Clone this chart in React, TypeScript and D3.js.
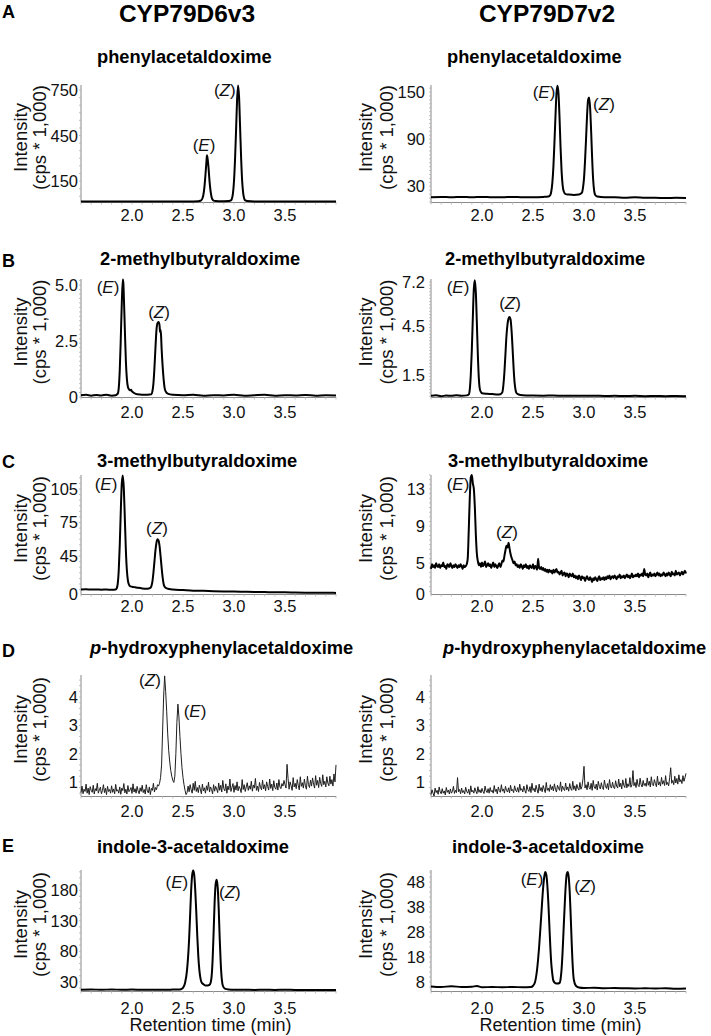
import React from "react";
import * as d3 from "d3";

const W = 711;
const H = 1036;
const FONT = "'Liberation Sans', Arial, Helvetica, sans-serif";

// ---------- x axis ----------
const xDomain: [number, number] = [1.5, 4.0];
const xTickLabels = ["2.0", "2.5", "3.0", "3.5"];

// ---------- data (retention time [min], intensity [cps*1000]) ----------
const aLeft: [number, number][] = [
  [1.5, 16], [1.6, 15], [1.7, 16], [1.8, 15], [1.9, 16], [2.0, 15], [2.1, 16], [2.2, 15], [2.3, 16], [2.4, 15],
  [2.5, 16], [2.6, 16], [2.65, 17], [2.67, 20], [2.68, 24], [2.69, 35], [2.7, 60], [2.71, 110], [2.72, 190],
  [2.73, 280], [2.735, 320], [2.74, 305], [2.75, 240], [2.76, 150], [2.77, 85], [2.78, 45], [2.79, 28], [2.8, 21],
  [2.82, 18], [2.85, 17], [2.9, 17], [2.95, 18], [2.97, 22], [2.98, 35], [2.99, 70], [3.0, 150], [3.01, 290],
  [3.02, 480], [3.03, 680], [3.04, 780], [3.05, 700], [3.06, 500], [3.07, 300], [3.08, 150], [3.09, 70], [3.1, 35],
  [3.11, 22], [3.13, 18], [3.2, 16], [3.3, 16], [3.4, 15], [3.5, 16], [3.6, 15], [3.7, 16], [3.8, 15], [3.9, 15], [4.0, 15],
];
const aRight: [number, number][] = [
  [1.5, 16], [1.6, 16.5], [1.7, 16], [1.8, 16.5], [1.9, 16], [2.0, 16.5], [2.1, 16], [2.2, 16], [2.3, 16.5], [2.4, 16],
  [2.5, 16], [2.6, 16.5], [2.65, 17], [2.67, 19], [2.68, 24], [2.69, 35], [2.7, 55], [2.71, 85], [2.72, 118],
  [2.73, 148], [2.74, 158], [2.75, 148], [2.76, 118], [2.77, 80], [2.78, 50], [2.79, 32], [2.8, 24], [2.82, 20],
  [2.85, 19.5], [2.9, 19], [2.95, 19.5], [2.98, 22], [2.99, 28], [3.0, 40], [3.01, 62], [3.02, 90], [3.03, 120],
  [3.04, 140], [3.05, 143], [3.06, 130], [3.07, 100], [3.08, 65], [3.09, 38], [3.1, 24], [3.11, 19], [3.13, 17],
  [3.2, 16], [3.3, 16], [3.4, 15.5], [3.5, 16], [3.6, 15.5], [3.7, 15.5], [3.8, 15], [3.9, 15.5], [4.0, 15],
];
const bLeft: [number, number][] = [
  [1.5, 0.08], [1.55, 0.1], [1.6, 0.06], [1.65, 0.09], [1.7, 0.07], [1.75, 0.1], [1.8, 0.06], [1.84, 0.08], [1.86, 0.15],
  [1.87, 0.4], [1.88, 1.2], [1.89, 2.6], [1.9, 4.2], [1.91, 5.25], [1.915, 5.1], [1.92, 4.5], [1.93, 3.0], [1.94, 1.6],
  [1.95, 0.8], [1.96, 0.45], [1.97, 0.35], [1.98, 0.3], [1.99, 0.32], [2.0, 0.25], [2.02, 0.18], [2.05, 0.12], [2.1, 0.1],
  [2.15, 0.1], [2.19, 0.12], [2.2, 0.25], [2.21, 0.6], [2.22, 1.3], [2.23, 2.2], [2.24, 3.0], [2.25, 3.3], [2.26, 3.35],
  [2.27, 3.2], [2.275, 2.9], [2.28, 3.0], [2.285, 2.75], [2.29, 2.2], [2.3, 1.4], [2.31, 0.8], [2.32, 0.4], [2.33, 0.25],
  [2.35, 0.15], [2.4, 0.1], [2.5, 0.08], [2.6, 0.1], [2.7, 0.06], [2.8, 0.08], [2.9, 0.07], [3.0, 0.1], [3.1, 0.06],
  [3.2, 0.08], [3.3, 0.1], [3.4, 0.06], [3.5, 0.08], [3.6, 0.07], [3.7, 0.09], [3.8, 0.06], [3.9, 0.08], [4.0, 0.07],
];
const bRight: [number, number][] = [
  [1.5, 0.22], [1.55, 0.25], [1.6, 0.2], [1.65, 0.24], [1.7, 0.22], [1.75, 0.25], [1.8, 0.23], [1.85, 0.25], [1.87, 0.3],
  [1.88, 0.6], [1.89, 1.5], [1.9, 3.0], [1.91, 5.0], [1.92, 6.8], [1.93, 7.3], [1.94, 6.5], [1.95, 4.6], [1.96, 2.6],
  [1.97, 1.2], [1.98, 0.6], [1.99, 0.45], [2.0, 0.38], [2.05, 0.35], [2.1, 0.33], [2.15, 0.3], [2.18, 0.32], [2.2, 0.45],
  [2.21, 0.9], [2.22, 1.7], [2.23, 2.8], [2.24, 3.9], [2.25, 4.6], [2.26, 4.95], [2.27, 5.05], [2.28, 4.9], [2.29, 4.2],
  [2.3, 3.1], [2.31, 1.9], [2.32, 1.0], [2.33, 0.55], [2.34, 0.38], [2.36, 0.3], [2.4, 0.26], [2.5, 0.24], [2.6, 0.23],
  [2.7, 0.24], [2.8, 0.22], [2.9, 0.23], [3.0, 0.22], [3.1, 0.23], [3.2, 0.21], [3.3, 0.22], [3.4, 0.21], [3.5, 0.22],
  [3.6, 0.2], [3.7, 0.21], [3.8, 0.2], [3.9, 0.21], [4.0, 0.2],
];
const cLeft: [number, number][] = [
  [1.5, 15], [1.55, 15.2], [1.6, 15], [1.65, 15.1], [1.7, 14.9], [1.75, 15], [1.8, 14.8], [1.84, 15], [1.85, 16],
  [1.86, 20], [1.87, 32], [1.88, 55], [1.89, 85], [1.9, 110], [1.91, 117], [1.92, 105], [1.93, 78], [1.94, 50],
  [1.95, 32], [1.96, 23], [1.97, 19.5], [1.98, 18], [2.0, 17.5], [2.03, 17], [2.06, 16.5], [2.1, 16], [2.15, 15.8],
  [2.18, 16.5], [2.19, 18], [2.2, 22], [2.21, 30], [2.22, 40], [2.23, 50], [2.24, 57], [2.25, 60], [2.26, 59],
  [2.27, 54], [2.28, 45], [2.29, 35], [2.3, 26], [2.31, 20], [2.32, 17.5], [2.34, 16], [2.4, 15], [2.5, 14.5],
  [2.6, 14], [2.7, 13.8], [2.8, 13.5], [2.9, 13.3], [3.0, 13.2], [3.1, 13], [3.2, 12.8], [3.3, 12.7], [3.4, 12.5],
  [3.5, 12.5], [3.6, 12.3], [3.7, 12.2], [3.8, 12.2], [3.9, 12.1], [4.0, 12],
];
// noisy traces: one value every 0.01 min starting at 1.50 min
const noisyStart = 1.5;
const noisyStep = 0.01;
const cRightValues = [
  4.4, 4.9, 4.6, 4.8, 4.5, 5.0, 4.7, 4.6, 4.9, 4.5, 4.8, 4.7, 5.1, 4.6, 4.7, 4.4, 4.9, 4.8, 4.6, 5.0, 4.7, 4.5, 4.8, 4.6,
  4.9, 4.7, 4.5, 4.8, 4.6, 4.9, 4.7, 4.4, 4.8, 4.6, 4.7, 4.9,
  5.5, 8.5, 12.0, 14.2, 14.6, 13.6, 13.0, 11.0, 8.0, 6.0, 5.2, 4.8,
  5.0, 4.6, 5.1, 4.7, 4.9, 5.2, 4.6, 4.8, 5.0, 4.7, 4.9, 4.5, 4.8, 5.1, 4.6, 4.9, 4.7, 4.5, 4.8, 5.0, 4.6, 4.9, 5.3,
  5.2, 5.8, 6.4, 6.9, 6.7, 7.2, 6.6, 6.0, 5.6, 5.3, 5.0, 5.2, 4.8,
  4.9, 4.6, 4.8, 4.5, 4.9, 4.7, 4.4, 4.8, 4.6, 4.9, 4.5, 4.7, 4.4, 4.8, 4.6, 4.5, 4.9, 4.4, 4.7, 4.6, 4.3, 5.5, 4.5,
  4.4, 4.6, 4.3, 4.5,
  4.2, 4.4, 4.1, 4.3, 4.0, 4.3, 4.1, 4.2, 3.9, 4.3, 4.0, 4.2, 4.4, 4.0, 4.1, 3.8, 4.0, 4.2, 3.7, 3.9, 4.0, 3.6, 3.9,
  3.8, 3.5, 3.9, 3.7, 3.6, 3.9, 3.5,
  3.7, 3.4, 3.6, 3.3, 3.7, 3.5, 3.2, 3.6, 3.4, 3.5, 3.1, 3.4, 3.6, 3.3, 3.2, 3.5, 3.3, 3.0, 3.4, 3.2, 3.5, 3.3, 3.1,
  3.4, 3.6, 3.2, 3.4, 3.3, 3.5, 3.2,
  3.5, 3.3, 3.6, 3.4, 3.7, 3.3, 3.5, 3.6, 3.4, 3.7, 3.5, 3.3, 3.6, 3.5, 3.8, 3.4, 3.6, 3.5, 3.7, 3.4, 3.6, 3.8, 3.5,
  3.7, 3.4, 3.6, 3.9, 3.5, 3.7, 3.6,
  3.8, 3.6, 3.9, 3.5, 3.8, 3.7, 3.9, 3.6, 4.4, 3.8, 3.7, 3.9, 3.5, 3.8, 4.0, 3.6, 3.8, 3.7, 3.9, 3.6, 3.8, 4.0, 3.7,
  3.9, 3.6, 3.8, 3.7, 4.0, 3.8, 3.6,
  3.9, 3.7, 4.0, 3.8, 3.6, 4.1, 3.8, 3.9, 3.7, 4.2, 3.8, 3.9, 4.0, 3.7, 3.9, 4.1, 3.8, 4.0, 4.2, 3.9,
];
const dLeftValues = [
  0.62, 0.85, 0.58, 0.74, 0.66, 0.92, 0.6, 0.78, 0.55, 0.83, 0.7, 0.63, 0.88, 0.57, 0.76, 0.68, 0.95, 0.6, 0.72, 0.81,
  0.58, 0.69, 0.9, 0.62, 0.77, 0.55, 0.84, 0.66, 0.73, 0.6,
  0.86, 0.63, 0.75, 0.58, 0.91, 0.67, 0.72, 0.6, 0.82, 0.56, 0.78, 0.69, 0.94, 0.61, 0.74, 0.57, 0.87, 0.65, 0.71, 0.8,
  0.59, 0.93, 0.64, 0.76, 0.6, 0.84, 0.68, 0.58, 0.79, 0.66,
  0.88, 0.62, 0.73, 0.57, 0.9, 0.68, 0.61, 0.82, 0.55, 0.77, 0.7, 0.95, 0.64, 0.8, 0.72, 0.9, 0.85, 0.95, 1.15,
  1.6, 2.8, 4.0, 4.75, 4.2, 3.5, 2.7, 2.1, 1.7, 1.4, 1.2, 1.05, 0.98, 1.2, 2.0, 3.1, 3.75, 3.3, 2.6, 2.0, 1.5, 1.15,
  0.9, 0.7, 0.55, 0.62, 0.85,
  0.65, 0.9, 0.72, 0.6, 0.95, 0.7, 1.02, 0.66, 0.8, 0.62, 0.88, 0.74, 0.58, 0.92, 0.68, 0.79, 0.6, 0.86, 0.7, 0.99,
  0.64, 0.82, 0.73, 0.58, 0.9, 0.67, 0.84, 0.75, 0.62, 0.96,
  0.7, 0.88, 0.64, 1.05, 0.76, 0.68, 0.93, 0.6, 0.85, 0.72, 1.1, 0.66, 0.8, 0.94, 0.63, 0.87, 0.71, 1.0, 0.68, 0.84,
  0.76, 0.62, 1.08, 0.73, 0.9, 0.66, 0.82, 0.97, 0.7, 0.86,
  0.74, 1.02, 0.67, 0.89, 0.78, 1.12, 0.7, 0.85, 0.66, 0.98, 0.8, 0.72, 1.06, 0.75, 0.9, 0.68, 1.0, 0.83, 0.71, 1.1,
  0.77, 0.92, 0.69, 1.04, 0.8, 0.74, 0.96, 0.71, 1.08, 0.82,
  0.76, 0.94, 0.85, 1.05, 0.9, 0.78, 1.62, 1.12, 0.74, 1.0, 0.86, 0.7, 1.15, 0.82, 0.95, 0.76, 1.08, 0.88, 0.72, 1.18,
  0.84, 0.97, 0.78, 1.1, 0.86, 0.74, 1.2, 0.9, 0.8, 1.06,
  0.85, 1.14, 0.92, 0.78, 1.22, 0.88, 1.05, 0.8, 1.16, 0.94, 0.84, 1.25, 0.9, 1.02, 0.82, 1.18, 0.96, 0.86, 1.2, 0.92,
  1.08, 0.85, 1.28, 1.0, 1.6,
];
const dRightValues = [
  0.55, 0.72, 0.6, 0.5, 0.78, 0.62, 0.7, 0.56, 0.82, 0.64, 0.58, 0.76, 0.6, 0.68, 0.54, 0.8, 0.63, 0.71, 0.57, 0.75,
  0.6, 0.66, 0.84, 0.59, 0.7, 0.62, 1.15, 0.65, 0.73, 0.58,
  0.78, 0.62, 0.69, 0.57, 0.81, 0.66, 0.6, 0.74, 0.55, 0.86, 0.64, 0.7, 0.6, 0.79, 0.67, 0.58, 0.83, 0.63, 0.72, 0.61,
  0.77, 0.66, 0.59, 0.85, 0.68, 0.62, 0.76, 0.6, 0.8, 0.65,
  0.7, 0.6, 0.87, 0.66, 0.74, 0.58, 0.82, 0.69, 0.63, 0.9, 0.67, 0.75, 0.6, 0.84, 0.7, 0.64, 0.79, 0.61, 0.88, 0.68,
  0.73, 0.62, 0.86, 0.7, 0.65, 0.8, 0.63, 0.92, 0.7, 0.76,
  0.64, 0.85, 0.7, 0.6, 0.9, 0.72, 0.66, 0.83, 0.62, 0.95, 0.7, 0.77, 0.64, 0.88, 0.73, 0.6, 0.92, 0.69, 0.8, 0.65,
  0.87, 0.74, 0.62, 0.98, 0.7, 0.78, 0.66, 0.9, 0.72, 0.84,
  0.68, 0.93, 0.74, 0.64, 0.88, 0.78, 0.7, 1.0, 0.66, 0.85, 0.75, 0.69, 0.96, 0.72, 0.82, 0.67, 0.94, 0.76, 0.7, 1.02,
  0.73, 0.86, 0.68, 0.91, 0.77, 0.71, 0.98, 0.74, 0.84, 1.1,
  1.55, 0.78, 0.9, 0.72, 1.0, 0.8, 0.74, 0.95, 0.7, 1.05, 0.82, 0.76, 0.92, 0.71, 1.02, 0.84, 0.75, 0.97, 0.8, 0.73,
  1.06, 0.86, 0.77, 0.94, 0.72, 1.08, 0.83, 0.78, 0.99, 0.81,
  0.76, 1.04, 0.85, 0.78, 1.1, 0.82, 0.95, 0.75, 1.07, 0.88, 0.8, 1.12, 0.79, 0.93, 0.84, 1.15, 0.81, 0.9, 1.4, 0.86,
  0.98, 0.8, 1.09, 0.88, 0.83, 1.13, 0.9, 0.82, 1.05, 0.87,
  0.95, 0.84, 1.14, 0.88, 1.02, 0.82, 1.18, 0.9, 0.86, 1.08, 0.94, 0.83, 1.2, 0.89, 1.0, 0.85, 1.16, 0.92, 1.04, 0.87,
  1.22, 0.9, 0.98, 0.86, 1.15, 1.5, 0.95, 1.05, 0.9, 1.2,
  0.96, 1.12, 0.92, 1.25, 1.0, 1.08, 0.94, 1.22, 1.02, 1.15, 1.3,
];
const eLeft: [number, number][] = [
  [1.5, 17], [1.6, 17.5], [1.7, 17], [1.8, 17.5], [1.9, 17], [2.0, 17.3], [2.1, 17], [2.2, 17.2], [2.3, 17], [2.4, 17.3],
  [2.45, 17.5], [2.48, 18], [2.5, 20], [2.52, 28], [2.54, 50], [2.56, 100], [2.57, 140], [2.58, 180], [2.59, 205],
  [2.6, 212], [2.61, 205], [2.62, 180], [2.63, 145], [2.64, 105], [2.65, 72], [2.66, 50], [2.67, 37], [2.68, 30],
  [2.7, 26], [2.72, 24], [2.74, 24], [2.76, 25], [2.77, 28], [2.78, 38], [2.79, 65], [2.8, 110], [2.81, 160],
  [2.82, 190], [2.83, 197], [2.84, 185], [2.85, 150], [2.86, 100], [2.87, 60], [2.88, 35], [2.89, 24], [2.91, 19],
  [2.95, 17.5], [3.0, 17], [3.1, 17], [3.2, 16.8], [3.3, 17], [3.4, 16.8], [3.5, 17], [3.6, 16.7], [3.7, 16.8],
  [3.8, 16.6], [3.9, 16.7], [4.0, 16.5],
];
const eRight: [number, number][] = [
  [1.5, 6.2], [1.6, 6.0], [1.7, 6.3], [1.8, 6.0], [1.9, 6.1], [1.95, 6.4], [2.0, 5.9], [2.1, 6.0], [2.2, 5.9], [2.3, 6.0],
  [2.4, 5.9], [2.48, 6.0], [2.5, 6.5], [2.52, 8], [2.54, 13], [2.56, 22], [2.58, 34], [2.6, 46], [2.61, 50], [2.62, 52],
  [2.63, 51], [2.64, 47], [2.65, 40], [2.66, 31], [2.67, 22], [2.68, 15], [2.69, 11], [2.7, 8.5], [2.72, 7.5],
  [2.74, 7.4], [2.76, 7.6], [2.77, 9], [2.78, 13], [2.79, 20], [2.8, 29], [2.81, 38], [2.82, 46], [2.83, 51],
  [2.84, 52], [2.85, 50], [2.86, 44], [2.87, 34], [2.88, 23], [2.89, 14], [2.9, 9], [2.92, 6.5], [2.95, 5.8],
  [3.0, 5.6], [3.1, 5.7], [3.2, 5.5], [3.3, 5.6], [3.4, 5.5], [3.5, 5.4], [3.6, 5.5], [3.7, 5.4], [3.8, 5.5],
  [3.9, 5.3], [4.0, 5.4],
];

// ---------- y tick labels ----------
const aLeftTicks = ["150", "450", "750"];
const aRightTicks = ["30", "90", "150"];
const bLeftTicks = ["0", "2.5", "5.0"];
const bRightTicks = ["1.5", "4.5", "7.2"];
const cLeftTicks = ["0", "45", "75", "105"];
const cRightTicks = ["0", "5", "9", "13"];
const dTicks = ["1", "2", "3", "4"];
const eLeftTicks = ["30", "80", "130", "180"];
const eRightTicks = ["8", "18", "28", "38", "48"];

// ---------- peak annotations: [isomer, time, intensity] ----------
const aLeftPeaks: [string, number, number][] = [["E", 2.706, 387], ["Z", 2.91, 750]];
const aRightPeaks: [string, number, number][] = [["E", 2.608, 150], ["Z", 3.196, 135]];
const bLeftPeaks: [string, number, number][] = [["E", 1.765, 4.91], ["Z", 2.265, 3.81]];
const bRightPeaks: [string, number, number][] = [["E", 1.765, 6.89], ["Z", 2.275, 5.91]];
const cLeftPeaks: [string, number, number][] = [["E", 1.745, 109.5], ["Z", 2.245, 70]];
const cRightPeaks: [string, number, number][] = [["E", 1.765, 13.5], ["Z", 2.245, 8.41]];
const dLeftPeaks: [string, number, number][] = [["Z", 2.176, 4.6], ["E", 2.618, 3.5]];
const eLeftPeaks: [string, number, number][] = [["E", 2.44, 193], ["Z", 2.96, 176.7]];
const eRightPeaks: [string, number, number][] = [["E", 2.49, 49.2], ["Z", 3.01, 46.4]];

const titles = [
  "phenylacetaldoxime",
  "2-methylbutyraldoxime",
  "3-methylbutyraldoxime",
  "p-hydroxyphenylacetaldoxime",
  "indole-3-acetaldoxime",
];
const columnHeaders = ["CYP79D6v3", "CYP79D7v2"];
const rowLetters = ["A", "B", "C", "D", "E"];

// ---------- layout ----------
const rows = [
  { top: 85, bottom: 202, titleY: 63, letterY: 18, xLabY: 221, titleX: [97, 447] },
  { top: 279, bottom: 397, titleY: 265, letterY: 267, xLabY: 418, titleX: [100, 445] },
  { top: 475, bottom: 594, titleY: 467, letterY: 468, xLabY: 612, titleX: [97, 448] },
  { top: 675, bottom: 796, titleY: 654, letterY: 657, xLabY: 817, titleX: [90, 443] },
  { top: 870, bottom: 991, titleY: 853, letterY: 852, xLabY: 1014, titleX: [97, 452] },
];
const cols = [
  { x0: 81, x1: 336, lab1: 27, lab2: 46, tickX: 78 },
  { x0: 431, x1: 686, lab1: 372, lab2: 393, tickX: 425 },
];

type Panel = {
  row: number;
  col: number;
  pts: [number, number][];
  yDomain: [number, number];
  ticks: string[];
  peaks: [string, number, number][];
  thin?: boolean;
};

const toPairs = (vals: number[]): [number, number][] =>
  vals.map((v, i) => [noisyStart + i * noisyStep, v]);

const panels: Panel[] = [
  { row: 0, col: 0, pts: aLeft, yDomain: [12, 783], ticks: aLeftTicks, peaks: aLeftPeaks },
  { row: 0, col: 1, pts: aRight, yDomain: [10, 159], ticks: aRightTicks, peaks: aRightPeaks },
  { row: 1, col: 0, pts: bLeft, yDomain: [0, 5.27], ticks: bLeftTicks, peaks: bLeftPeaks },
  { row: 1, col: 1, pts: bRight, yDomain: [0.15, 7.38], ticks: bRightTicks, peaks: bRightPeaks },
  { row: 2, col: 0, pts: cLeft, yDomain: [11, 117.5], ticks: cLeftTicks, peaks: cLeftPeaks },
  { row: 2, col: 1, pts: toPairs(cRightValues), yDomain: [1.7, 14.5], ticks: cRightTicks, peaks: cRightPeaks },
  { row: 3, col: 0, pts: toPairs(dLeftValues), yDomain: [0.5, 4.78], ticks: dTicks, peaks: dLeftPeaks, thin: true },
  { row: 3, col: 1, pts: toPairs(dRightValues), yDomain: [0.5, 4.78], ticks: dTicks, peaks: [], thin: true },
  { row: 4, col: 0, pts: eLeft, yDomain: [15, 213], ticks: eLeftTicks, peaks: eLeftPeaks },
  { row: 4, col: 1, pts: eRight, yDomain: [4.4, 52.8], ticks: eRightTicks, peaks: eRightPeaks },
];

const AXIS = "#8a8a8a";

function Title({ text, x, y }: { text: string; x: number; y: number }) {
  if (text.startsWith("p-")) {
    return (
      <text x={x} y={y} fontSize={18.3} fontWeight="bold" fontFamily={FONT}>
        <tspan fontStyle="italic">p</tspan>
        {text.slice(1)}
      </text>
    );
  }
  return (
    <text x={x} y={y} fontSize={18.3} fontWeight="bold" fontFamily={FONT}>
      {text}
    </text>
  );
}

function ChartPanel({ p }: { p: Panel }) {
  const r = rows[p.row];
  const c = cols[p.col];
  const xs = d3.scaleLinear().domain(xDomain).range([c.x0, c.x1]);
  const ys = d3.scaleLinear().domain(p.yDomain).range([r.bottom, r.top]).clamp(true);
  const line = d3
    .line<[number, number]>()
    .x((d) => xs(d[0]))
    .y((d) => ys(d[1]))
    .curve(p.thin ? d3.curveLinear : d3.curveMonotoneX);
  const yMinor = ys.ticks(24);
  const xMinor = xs.ticks(25);
  const labMid = (r.top + r.bottom) / 2 - 6;
  return (
    <g>
      <Title text={titles[p.row]} x={r.titleX[p.col]} y={r.titleY} />
      {/* axes */}
      <line x1={c.x0} x2={c.x0} y1={r.top} y2={r.bottom} stroke={AXIS} strokeWidth={1} />
      <line x1={c.x0} x2={c.x1} y1={r.bottom + 0.5} y2={r.bottom + 0.5} stroke={AXIS} strokeWidth={1} />
      {yMinor.map((v, i) => (
        <line key={"ym" + i} x1={c.x0 - 2} x2={c.x0} y1={ys(v)} y2={ys(v)} stroke="#b0b0b0" strokeWidth={0.8} />
      ))}
      {xMinor.map((v, i) => (
        <line key={"xm" + i} x1={xs(v)} x2={xs(v)} y1={r.bottom} y2={r.bottom + 2.5} stroke="#b0b0b0" strokeWidth={0.8} />
      ))}
      {p.ticks.map((t) => (
        <text
          key={"yt" + t}
          x={c.tickX}
          y={ys(+t) + 6}
          textAnchor="end"
          fontSize={16.5}
          fontFamily={FONT}
          fill="#111"
        >
          {t}
        </text>
      ))}
      {xTickLabels.map((t) => (
        <text key={"xt" + t} x={xs(+t)} y={r.xLabY} textAnchor="middle" fontSize={16.5} fontFamily={FONT} fill="#111">
          {t}
        </text>
      ))}
      {/* y axis title */}
      <text
        transform={`translate(${c.lab1},${labMid}) rotate(-90)`}
        textAnchor="middle"
        fontSize={18.5}
        fontFamily={FONT}
        fill="#111"
      >
        Intensity
      </text>
      <text
        transform={`translate(${c.lab2},${labMid}) rotate(-90)`}
        textAnchor="middle"
        fontSize={18.5}
        fontFamily={FONT}
        fill="#111"
      >
        (cps * 1,000)
      </text>
      {/* trace */}
      <path
        d={line(p.pts) || ""}
        fill="none"
        stroke={p.thin ? "#1e1e1e" : "#000"}
        strokeWidth={p.thin ? 1 : 2}
        strokeLinejoin="round"
      />
      {p.peaks.map(([iso, t, v]) => (
        <text
          key={"pk" + iso}
          x={xs(t)}
          y={ys(v) + 6}
          textAnchor="middle"
          fontSize={17}
          fontFamily={FONT}
          fill="#111"
        >
          (<tspan fontStyle="italic">{iso}</tspan>)
        </text>
      ))}
      {p.row === 4 && (
        <text
          x={(c.x0 + c.x1) / 2 + 2}
          y={1031}
          textAnchor="middle"
          fontSize={18}
          fontFamily={FONT}
          fill="#111"
        >
          Retention time (min)
        </text>
      )}
    </g>
  );
}

export default function App() {
  return (
    <svg
      width={W}
      height={H}
      viewBox={`0 0 ${W} ${H}`}
      style={{ position: "absolute", left: 0, top: 0, background: "#fff" }}
    >
      <rect x={0} y={0} width={W} height={H} fill="#fff" />
      {columnHeaders.map((h, i) => (
        <text
          key={h}
          x={i === 0 ? 187 : 547}
          y={21.5}
          textAnchor="middle"
          fontSize={24.5}
          fontWeight="bold"
          fontFamily={FONT}
        >
          {h}
        </text>
      ))}
      {rowLetters.map((l, i) => (
        <text key={l} x={2} y={rows[i].letterY} fontSize={18} fontWeight="bold" fontFamily={FONT}>
          {l}
        </text>
      ))}
      {panels.map((p, i) => (
        <ChartPanel key={i} p={p} />
      ))}
    </svg>
  );
}
